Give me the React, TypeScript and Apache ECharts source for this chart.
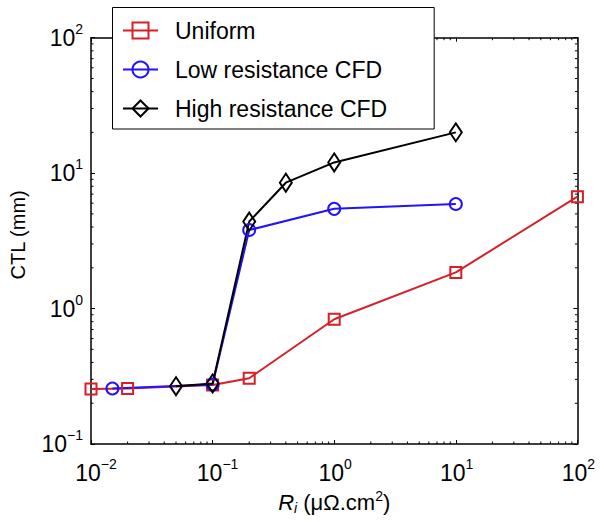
import React, { useEffect, useRef } from "react";
import * as echarts from "echarts";

const seriesNames = ["Uniform", "Low resistance CFD", "High resistance CFD"];
const uniformX = [0.01, 0.02, 0.1, 0.2, 1, 10, 100];
const uniformY = [0.255, 0.257, 0.273, 0.306, 0.834, 1.85, 6.7];
const lowX = [0.015, 0.1, 0.2, 1, 10];
const lowY = [0.257, 0.275, 3.8, 5.45, 5.92];
const highX = [0.05, 0.1, 0.2, 0.4, 1, 10];
const highY = [0.267, 0.28, 4.39, 8.5, 12.0, 20.0];

const xMin = 0.01;
const xMax = 100;
const yMin = 0.1;
const yMax = 100;
const xDecades = [0.01, 0.1, 1, 10];
const yDecades = [0.1, 1, 10];
const minorMultipliers = [2, 3, 4, 5, 6, 7, 8, 9];

const RED = "#d61f26";
const BLUE = "#2212ff";
const BLACK = "#000000";
const FONT = "'Liberation Sans', Arial, Helvetica, sans-serif";

function pairs(xs: number[], ys: number[]) {
  return xs.map((x, i) => [x, ys[i]]);
}

function expText(value: number) {
  const e = Math.round(Math.log10(value));
  return e < 0 ? "\u2212" + Math.abs(e) : String(e);
}
function expLabelY(value: number) {
  return "{b|10}{s|" + expText(value) + "}";
}
function expLabelX(value: number) {
  const s = expText(value);
  return "{p|" + s + "}{b|10}{s|" + s + "}";
}

const tickRich = {
  b: { fontSize: 23, lineHeight: 32, fontFamily: FONT, color: "#000" },
  s: { fontSize: 14, lineHeight: 14, verticalAlign: "top", fontFamily: FONT, color: "#000" },
};
const tickRichX = {
  p: { fontSize: 14, lineHeight: 14, verticalAlign: "top", fontFamily: FONT, color: "rgba(0,0,0,0)" },
  b: { fontSize: 23, lineHeight: 32, fontFamily: FONT, color: "#000" },
  s: { fontSize: 14, lineHeight: 14, verticalAlign: "top", fontFamily: FONT, color: "#000", padding: [0, 6, 0, 0] },
};

export default function App() {
  const ref = useRef<HTMLDivElement>(null);
  useEffect(() => {
    if (!ref.current) return;
    const chart = echarts.init(ref.current, undefined, { renderer: "svg", width: 604, height: 522 });

    const minorData: number[][] = [];
    xDecades.forEach((d) => minorMultipliers.forEach((m) => minorData.push([d * m, yMin, 0])));
    yDecades.forEach((d) => minorMultipliers.forEach((m) => minorData.push([xMin, d * m, 1])));

    const axisLine = { show: true, lineStyle: { color: "#000", width: 1.5 } };
    const axisTick = { show: true, inside: true, length: 4, lineStyle: { color: "#000", width: 1 } };

    const mkSeries = (name: string, data: number[][], color: string, symbol: string, size: any) => ({
      name,
      type: "line",
      data,
      symbol,
      symbolSize: size,
      showSymbol: true,
      lineStyle: { color, width: 2 },
      itemStyle: { color: "rgba(255,255,255,0)", borderColor: color, borderWidth: 2 },
      z: 3,
    });

    chart.setOption({
      animation: false,
      backgroundColor: "#fff",
      textStyle: { fontFamily: FONT },
      grid: { left: 90.5, width: 495.5, top: 37.7, height: 406.3, containLabel: false },
      legend: {
        data: seriesNames,
        orient: "vertical",
        left: 112.5,
        top: 7.5,
        padding: [11.5, 47, 9, 9.5],
        itemGap: 16,
        itemWidth: 35,
        itemHeight: 20,
        backgroundColor: "#fff",
        borderColor: "#000",
        borderWidth: 1,
        textStyle: { fontSize: 23, lineHeight: 22, color: "#000", fontFamily: FONT, padding: [0, 0, 0, 12] },
        z: 10,
      },
      xAxis: [
        {
          type: "log",
          logBase: 10,
          min: xMin,
          max: xMax,
          name: "{it|R}{sub|i}{n| (\u03bc\u03a9.cm}{sup|2}{n|)}",
          nameLocation: "middle",
          nameGap: 41,
          nameTextStyle: {
            rich: {
              it: { fontSize: 22, fontStyle: "italic", fontFamily: FONT, color: "#000", lineHeight: 26 },
              sub: { fontSize: 14, fontStyle: "italic", fontFamily: FONT, color: "#000", verticalAlign: "bottom", lineHeight: 13 },
              n: { fontSize: 22, fontFamily: FONT, color: "#000", lineHeight: 26 },
              sup: { fontSize: 14, fontFamily: FONT, color: "#000", verticalAlign: "top", lineHeight: 13 },
            },
          },
          axisLine,
          axisTick,
          splitLine: { show: false },
          axisLabel: { formatter: expLabelX, margin: 13, rich: tickRichX },
        },
        {
          type: "log",
          logBase: 10,
          min: xMin,
          max: xMax,
          position: "top",
          axisLine,
          axisTick,
          splitLine: { show: false },
          axisLabel: { show: false },
        },
      ],
      yAxis: [
        {
          type: "log",
          logBase: 10,
          min: yMin,
          max: yMax,
          name: "CTL (mm)",
          nameLocation: "middle",
          nameRotate: 90,
          nameGap: 63,
          nameTextStyle: { fontSize: 20, color: "#000", fontFamily: FONT, padding: [0, 0, 0, 12] },
          axisLine,
          axisTick,
          splitLine: { show: false },
          axisLabel: { formatter: expLabelY, margin: 8, rich: tickRich },
        },
        {
          type: "log",
          logBase: 10,
          min: yMin,
          max: yMax,
          position: "right",
          axisLine,
          axisTick,
          splitLine: { show: false },
          axisLabel: { show: false },
        },
      ],
      series: [
        {
          type: "custom",
          name: "minorTicks",
          silent: true,
          clip: false,
          xAxisIndex: 0,
          yAxisIndex: 0,
          encode: { x: 0, y: 1 },
          data: minorData,
          z: 1,
          renderItem: (params: any, api: any) => {
            const kind = api.value(2);
            const len = 2.5;
            const style = { stroke: "#000", lineWidth: 1 };
            if (kind === 0) {
              const b = api.coord([api.value(0), yMin]);
              const t = api.coord([api.value(0), yMax]);
              return {
                type: "group",
                children: [
                  { type: "line", shape: { x1: b[0], y1: b[1], x2: b[0], y2: b[1] - len }, style },
                  { type: "line", shape: { x1: t[0], y1: t[1], x2: t[0], y2: t[1] + len }, style },
                ],
              };
            }
            const l = api.coord([xMin, api.value(1)]);
            const r = api.coord([xMax, api.value(1)]);
            return {
              type: "group",
              children: [
                { type: "line", shape: { x1: l[0], y1: l[1], x2: l[0] + len, y2: l[1] }, style },
                { type: "line", shape: { x1: r[0], y1: r[1], x2: r[0] - len, y2: r[1] }, style },
              ],
            };
          },
        },
        mkSeries(seriesNames[0], pairs(uniformX, uniformY), RED, "rect", 11),
        mkSeries(seriesNames[1], pairs(lowX, lowY), BLUE, "circle", 12),
        mkSeries(seriesNames[2], pairs(highX, highY), BLACK, "diamond", [12, 18]),
      ],
    });
    return () => chart.dispose();
  }, []);
  return <div ref={ref} style={{ position: "fixed", left: 0, top: 0, width: 604, height: 522 }} />;
}
